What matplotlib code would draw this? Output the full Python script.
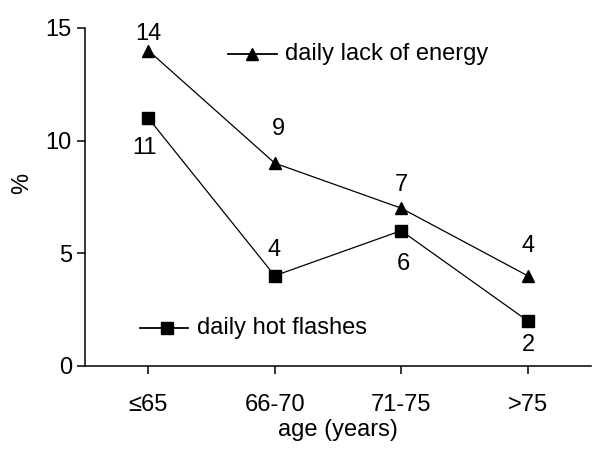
import matplotlib
matplotlib.use("Agg")
import matplotlib.pyplot as plt

plt.rcParams['font.family'] = ['Liberation Sans', 'DejaVu Sans']

# Data
ages = ["\u226465", "66-70", "71-75", ">75"]
lack_of_energy = [14, 9, 7, 4]
hot_flashes = [11, 4, 6, 2]

x = list(range(len(ages)))
fs = 17

fig = plt.figure(figsize=(5.95, 4.59), dpi=100)
ax = fig.add_axes([0.143, 0.203, 0.85, 0.736])

ax.plot(x, lack_of_energy, color='black', lw=0.9, marker='^', markersize=9)
ax.plot(x, hot_flashes, color='black', lw=0.9, marker='s', markersize=8.5)

# value labels, offsets in pixels from the point
energy_off = [(0, 17), (4, 34), (0, 23), (0, 30)]
flash_off = [(-4, -30), (-1, 26), (2, -33), (1, -24)]
for xi, v, off in zip(x, lack_of_energy, energy_off):
    ax.annotate(str(v), (xi, v), xytext=off, textcoords='offset pixels',
                ha='center', va='center', fontsize=fs)
for xi, v, off in zip(x, hot_flashes, flash_off):
    ax.annotate(str(v), (xi, v), xytext=off, textcoords='offset pixels',
                ha='center', va='center', fontsize=fs)

# in-plot legend entries
ax.plot([0.63, 1.02], [13.85, 13.85], color='black', lw=1.3)
ax.plot([0.82], [13.85], color='black', marker='^', markersize=8)
ax.text(1.08, 13.85, "daily lack of energy", fontsize=fs, va='center')
ax.plot([-0.063, 0.316], [1.68, 1.68], color='black', lw=1.3)
ax.plot([0.15], [1.68], color='black', marker='s', markersize=8)
ax.text(0.387, 1.68, "daily hot flashes", fontsize=fs, va='center')

ax.set_xlim(-0.5, 3.5)
ax.set_ylim(0, 15)
ax.set_xticks(x)
ax.set_xticklabels(ages)
ax.set_yticks([0, 5, 10, 15])
ax.tick_params(labelsize=fs, length=6, width=1.1)
ax.tick_params(axis='x', pad=14)
ax.tick_params(axis='y', pad=3.5)
ax.set_xlabel("age (years)", fontsize=fs, labelpad=2.5)
ax.set_ylabel("%", fontsize=fs, va='center')
ax.yaxis.set_label_coords(-0.125, 0.54)

for s in ['top', 'right']:
    ax.spines[s].set_visible(False)
for s in ['left', 'bottom']:
    ax.spines[s].set_linewidth(1.1)

fig.savefig("out.png", dpi=100)
